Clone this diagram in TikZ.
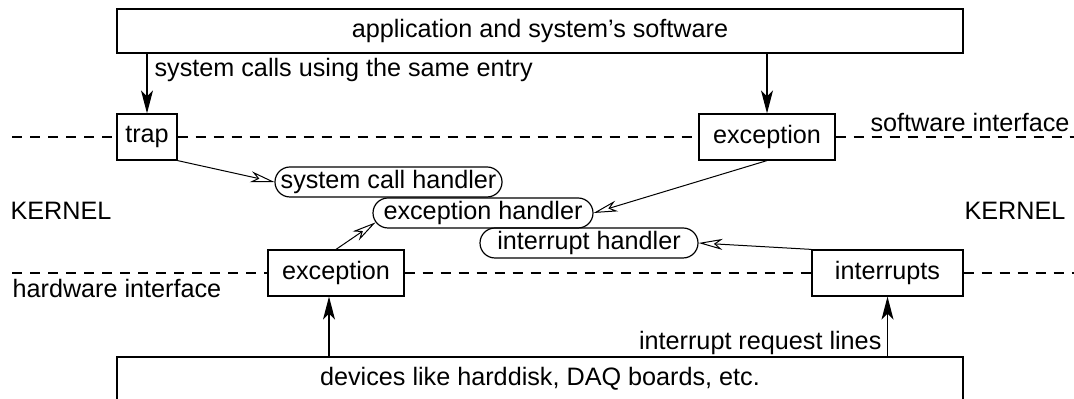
\documentclass[tikz,border=0pt]{standalone}
\usepackage{fontspec}
\setmainfont{Liberation Sans}
\usetikzlibrary{arrows.meta, positioning, shapes.misc}

\begin{document}
\begin{tikzpicture}[
  x=0.5pt, y=-0.5pt,
  font=\fontsize{12.6}{15}\selectfont,
  line width=0.6pt,
  layer/.style={draw, rectangle, inner sep=0pt, minimum height=22pt},
  gate/.style={draw, fill=white, rectangle, inner sep=0pt, minimum height=23pt},
  handler/.style={draw, rounded rectangle, inner sep=0pt, minimum height=15pt},
  iface/.style={dash pattern=on 5pt off 4pt},
  req/.style={-{Stealth[length=11.5pt, width=6pt, inset=3pt]}},
  disp/.style={-{Stealth[open, length=12pt, width=5.5pt, inset=3.5pt]}, line width=0.5pt},
  lbl/.style={inner sep=0pt}
]
\useasboundingbox (0,0) rectangle (1074,399);

% software side
\node[layer, minimum width=423pt] (app) at (540,31) {application and system's software};
\node[gate, minimum width=30pt] (trap) at (147,137) {trap};
\node[gate, minimum width=68pt] (excsw) at (767,137) {exception};

% hardware side
\node[gate, minimum width=68pt] (exchw) at (336,273) {exception};
\node[gate, minimum width=75.5pt] (irq) at (887.5,273) {interrupts};
\node[layer, minimum width=423pt] (dev) at (540,379) {devices like harddisk, DAQ boards, etc.};

% kernel handlers
\node[handler, minimum width=112.5pt] (sch) at (388.5,182) {system call handler};
\node[handler, minimum width=110pt] (eh) at (483,213) {exception handler};
\node[handler, minimum width=109pt] (ih) at (589,243) {interrupt handler};

% interface lines
\coordinate (swl) at (12,137);
\coordinate (swr) at (1074,137);
\coordinate (hwl) at (12,273);
\coordinate (hwr) at (1074,273);
\draw[iface] (swl) -- (trap) -- (excsw) -- (swr);
\draw[iface] (hwl) -- (exchw) -- (irq) -- (hwr);

% labels
\node[lbl, anchor=east] (swif) at (1070,122) {software interface};
\node[lbl, anchor=west] (hwif) at (12,288) {hardware interface};
\node[lbl, anchor=west] (kleft) at (10,211) {KERNEL};
\node[lbl, anchor=east] (kright) at (1066,211) {KERNEL};
\node[lbl, anchor=west] (calls) at (154,70) {system calls using the same entry};
\node[lbl, anchor=east] (lines) at (882,343) {interrupt request lines};

% requests
\draw[req] (trap |- app.south) -- (trap.north);
\draw[req] (excsw |- app.south) -- (excsw.north);
\draw[req] ([xshift=-3.5pt]exchw.south |- dev.north) -- ([xshift=-3.5pt]exchw.south);
\draw[req] (irq |- dev.north) -- (irq.south);

% dispatch into the kernel
\draw[disp] (trap.south east) -- (sch.west);
\draw[disp] (excsw.south) -- (eh.east);
\draw[disp] (exchw.north) -- (eh.185);
\draw[disp] (irq.north west) -- (ih.east);
\end{tikzpicture}
\end{document}
